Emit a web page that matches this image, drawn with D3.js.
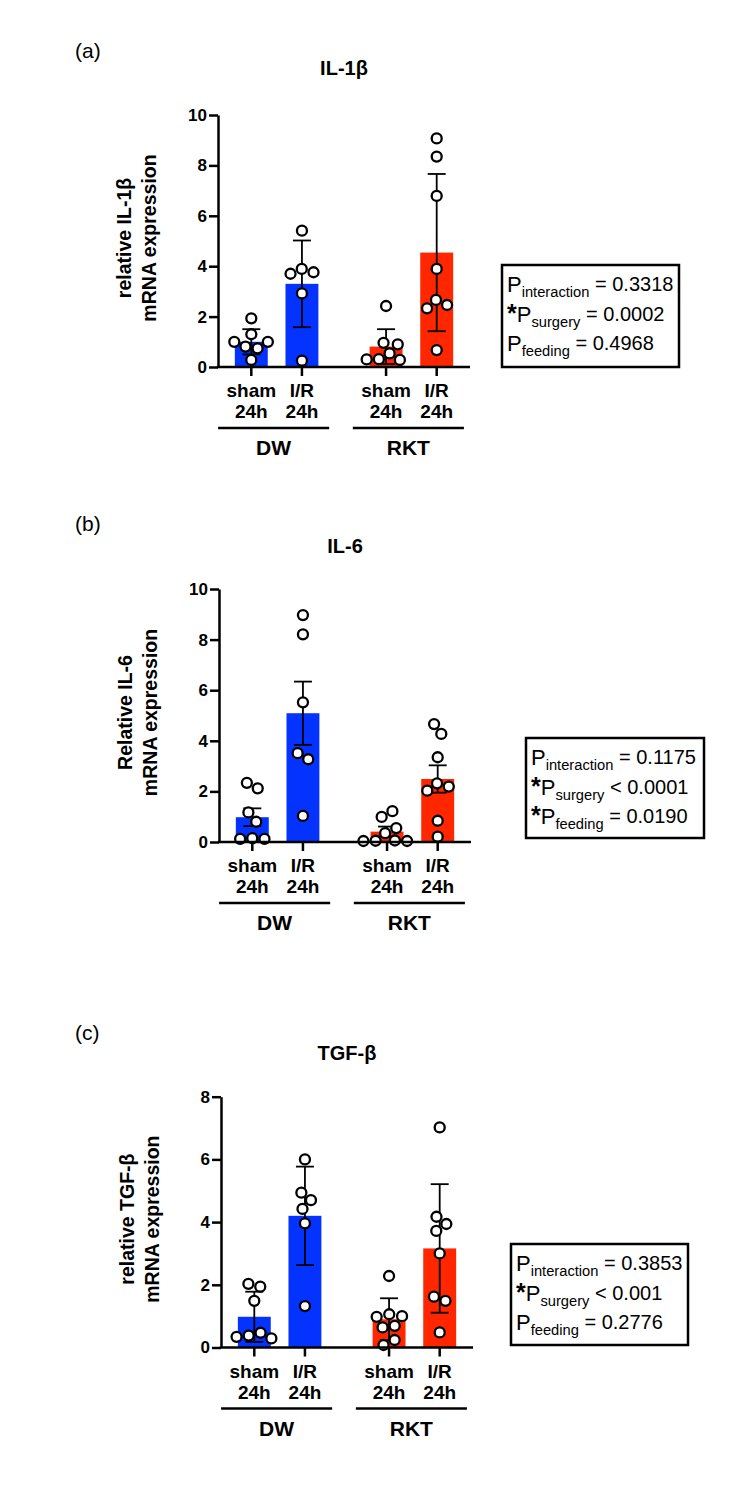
<!DOCTYPE html>
<html>
<head>
<meta charset="utf-8">
<script src="https://cdn.jsdelivr.net/npm/d3@7"></script>
<style>
  html, body { margin: 0; padding: 0; background: #fff; }
  svg { display: block; }
  text { font-family: "Liberation Sans", Arial, sans-serif; fill: #000; }
</style>
</head>
<body>
<svg id="chart" width="750" height="1506"></svg>
<script>
// ---------------- DATA ----------------
const feedingGroups = ["DW", "RKT"];
const surgeryGroups = ["sham", "I/R"];
const surgeryLine2 = "24h";
const panelLetters = ["(a)", "(b)", "(c)"];
const panelTitles = ["IL-1β", "IL-6", "TGF-β"];
const yTitles = [["relative IL-1β", "mRNA expression"], ["Relative IL-6", "mRNA expression"], ["relative TGF-β", "mRNA expression"]];
const yTicksA = [0, 2, 4, 6, 8, 10];
const yTicksB = [0, 2, 4, 6, 8, 10];
const yTicksC = [0, 2, 4, 6, 8];

// IL-1β (order: DW sham, DW I/R, RKT sham, RKT I/R)
const il1bMeans = [1.0, 3.3, 0.81, 4.54];
const il1bErr = [0.5, 1.72, 0.69, 3.12];
const il1bDWsham = [1.93, 1.30, 1.00, 1.00, 0.81, 0.74, 0.28];
const il1bDWir = [5.41, 3.89, 3.76, 3.70, 2.92, 0.25];
const il1bRKTsham = [2.42, 0.96, 0.90, 0.54, 0.31, 0.28, 0.30];
const il1bRKTir = [9.07, 8.35, 6.79, 3.89, 2.66, 2.46, 2.33, 0.67];

// IL-6
const il6Means = [0.98, 5.09, 0.41, 2.49];
const il6Err = [0.35, 1.25, 0.2, 0.54];
const il6DWsham = [2.34, 2.12, 1.17, 0.80, 0.12, 0.12, 0.15];
const il6DWir = [8.97, 8.21, 5.52, 3.51, 3.27, 1.03];
const il6RKTsham = [1.22, 0.99, 0.55, 0.35, 0.05, 0.04, 0.06, 0.04];
const il6RKTir = [4.66, 4.27, 3.35, 2.32, 2.19, 2.03, 0.84, 0.21];

// TGF-β
const tgfMeans = [0.98, 4.2, 0.9, 3.16];
const tgfErr = [0.8, 1.57, 0.67, 2.05];
const tgfDWsham = [2.03, 1.94, 1.49, 0.47, 0.38, 0.34, 0.29];
const tgfDWir = [6.0, 4.94, 4.70, 4.42, 3.96, 1.32];
const tgfRKTsham = [2.28, 1.06, 1.0, 0.98, 0.69, 0.64, 0.24, 0.08];
const tgfRKTir = [7.02, 4.17, 3.94, 3.72, 3.0, 1.62, 1.49, 0.48];

// statistics text
const statsA = [["", "interaction", " = 0.3318"], ["*", "surgery", " = 0.0002"], ["", "feeding", " = 0.4968"]];
const statsB = [["", "interaction", " = 0.1175"], ["*", "surgery", " < 0.0001"], ["*", "feeding", " = 0.0190"]];
const statsC = [["", "interaction", " = 0.3853"], ["*", "surgery", " < 0.001"], ["", "feeding", " = 0.2776"]];

const barColors = { DW: "#0433FF", RKT: "#FF2600" };

// ---------------- LAYOUT ----------------
const panels = [
  { means: il1bMeans, err: il1bErr, pts: [il1bDWsham, il1bDWir, il1bRKTsham, il1bRKTir], ticks: yTicksA, stats: statsA,
    xLeft: 218, y0: 367, yTop: 115, letterY: 58, titleY: 75, box: [502, 265, 177, 102] },
  { means: il6Means, err: il6Err, pts: [il6DWsham, il6DWir, il6RKTsham, il6RKTir], ticks: yTicksB, stats: statsB,
    xLeft: 219, y0: 842, yTop: 589, letterY: 531, titleY: 553, box: [526, 738, 178, 100] },
  { means: tgfMeans, err: tgfErr, pts: [tgfDWsham, tgfDWir, tgfRKTsham, tgfRKTir], ticks: yTicksC, stats: statsC,
    xLeft: 221, y0: 1347.5, yTop: 1096.7, letterY: 1040, titleY: 1060, box: [511, 1244, 177, 101] }
];

const svg = d3.select("#chart");

panels.forEach((p, pi) => {
  const g = svg.append("g");
  const yMax = p.ticks[p.ticks.length - 1];
  const y = d3.scaleLinear().domain([0, yMax]).range([p.y0, p.yTop]);
  const xOuter = d3.scaleBand().domain(feedingGroups).range([p.xLeft, p.xLeft + 252])
    .paddingInner(0.25).paddingOuter(0.06);
  const xInner = d3.scaleBand().domain(surgeryGroups).range([0, xOuter.bandwidth()])
    .paddingInner(0.35).paddingOuter(0.173);

  const groups = [];
  feedingGroups.forEach(f => surgeryGroups.forEach(s => groups.push({ f, s })));
  groups.forEach((d, i) => {
    d.x0 = xOuter(d.f) + xInner(d.s);
    d.cx = d.x0 + xInner.bandwidth() / 2;
    d.mean = p.means[i];
    d.err = p.err[i];
    d.vals = p.pts[i];
  });

  // panel letter and title
  g.append("text").attr("x", 75).attr("y", p.letterY).attr("font-size", 21).text(panelLetters[pi]);
  g.append("text").attr("x", p.xLeft + 126).attr("y", p.titleY).attr("text-anchor", "middle")
    .attr("font-size", 20).attr("font-weight", "bold").text(panelTitles[pi]);

  // bars
  g.selectAll("rect.bar").data(groups).enter().append("rect")
    .attr("x", d => d.x0).attr("width", xInner.bandwidth())
    .attr("y", d => y(d.mean)).attr("height", d => y(0) - y(d.mean))
    .attr("fill", d => barColors[d.f]);

  // error bars
  const cap = 9;
  groups.forEach(d => {
    const eb = g.append("g").attr("stroke", "#000").attr("stroke-width", 1.8);
    const lo = Math.max(0, d.mean - d.err), hi = d.mean + d.err;
    eb.append("line").attr("x1", d.cx).attr("x2", d.cx).attr("y1", y(lo)).attr("y2", y(hi));
    eb.append("line").attr("x1", d.cx - cap).attr("x2", d.cx + cap).attr("y1", y(hi)).attr("y2", y(hi));
    if (d.mean - d.err > 0) {
      eb.append("line").attr("x1", d.cx - cap).attr("x2", d.cx + cap).attr("y1", y(lo)).attr("y2", y(lo));
    }
  });

  // points (beeswarm)
  groups.forEach(d => {
    const nodes = d.vals.map(v => ({ v, x: d.cx, y: y(v), fy: y(v) }));
    const sim = d3.forceSimulation(nodes)
      .force("x", d3.forceX(d.cx).strength(0.06))
      .force("collide", d3.forceCollide(6.1))
      .stop();
    for (let i = 0; i < 300; i++) sim.tick();
    g.selectAll(null).data(nodes).enter().append("circle")
      .attr("cx", n => n.x).attr("cy", n => y(n.v)).attr("r", 5)
      .attr("fill", "#fff").attr("stroke", "#000").attr("stroke-width", 2.3);
  });

  // y axis
  const yAxis = d3.axisLeft(y).tickValues(p.ticks).tickSize(9).tickSizeOuter(0).tickPadding(2).tickFormat(d3.format("d"));
  const ya = g.append("g").attr("transform", `translate(${p.xLeft},0)`).call(yAxis);
  ya.select(".domain").attr("stroke", "#000").attr("stroke-width", 2.5);
  ya.selectAll(".tick line").attr("stroke", "#000").attr("stroke-width", 2.5);
  ya.selectAll(".tick text").attr("font-size", 17).attr("font-weight", "bold")
    .attr("font-family", "Liberation Sans, Arial, sans-serif").attr("fill", "#000");

  // x axis line
  g.append("line").attr("x1", p.xLeft - 1.2).attr("x2", p.xLeft + 252).attr("y1", p.y0).attr("y2", p.y0)
    .attr("stroke", "#000").attr("stroke-width", 2.5);
  groups.forEach(d => {
    g.append("line").attr("x1", d.cx).attr("x2", d.cx).attr("y1", p.y0).attr("y2", p.y0 + 9)
      .attr("stroke", "#000").attr("stroke-width", 2.5);
    const t = g.append("text").attr("text-anchor", "middle").attr("font-size", 19).attr("font-weight", "bold");
    t.append("tspan").attr("x", d.cx).attr("y", p.y0 + 30).text(d.s);
    t.append("tspan").attr("x", d.cx).attr("y", p.y0 + 51).text(surgeryLine2);
  });

  // group underlines and labels
  feedingGroups.forEach(f => {
    const x0 = xOuter(f) - 8, x1 = xOuter(f) + xOuter.bandwidth() + 2;
    g.append("line").attr("x1", x0).attr("x2", x1).attr("y1", p.y0 + 61).attr("y2", p.y0 + 61)
      .attr("stroke", "#000").attr("stroke-width", 2.5);
    g.append("text").attr("x", (x0 + x1) / 2).attr("y", p.y0 + 88).attr("text-anchor", "middle")
      .attr("font-size", 21).attr("font-weight", "bold").text(f);
  });

  // y title
  const yc = (p.y0 + p.yTop) / 2 - 3;
  yTitles[pi].forEach((line, li) => {
    const xc = p.xLeft - (li === 0 ? 94 : 69);
    g.append("text").attr("transform", `translate(${xc},${yc}) rotate(-90)`)
      .attr("text-anchor", "middle").attr("dominant-baseline", "central")
      .attr("font-size", 19.5).attr("font-weight", "bold").text(line);
  });

  // stats box
  const [bx, by, bw, bh] = p.box;
  g.append("rect").attr("x", bx).attr("y", by).attr("width", bw).attr("height", bh)
    .attr("fill", "none").attr("stroke", "#000").attr("stroke-width", 2.5);
  p.stats.forEach((s, si) => {
    const t = g.append("text").attr("x", bx + 5).attr("y", by + 27 + si * 29.5).attr("font-size", 20);
    if (s[0]) t.append("tspan").attr("font-weight", "bold").attr("font-size", 25).text(s[0]);
    t.append("tspan").attr("font-size", 22).text("P");
    t.append("tspan").attr("font-size", 14.7).attr("dy", 5).text(s[1]);
    t.append("tspan").attr("font-size", 20).attr("dy", -6).text(s[2]);
  });
});
</script>
</body>
</html>
